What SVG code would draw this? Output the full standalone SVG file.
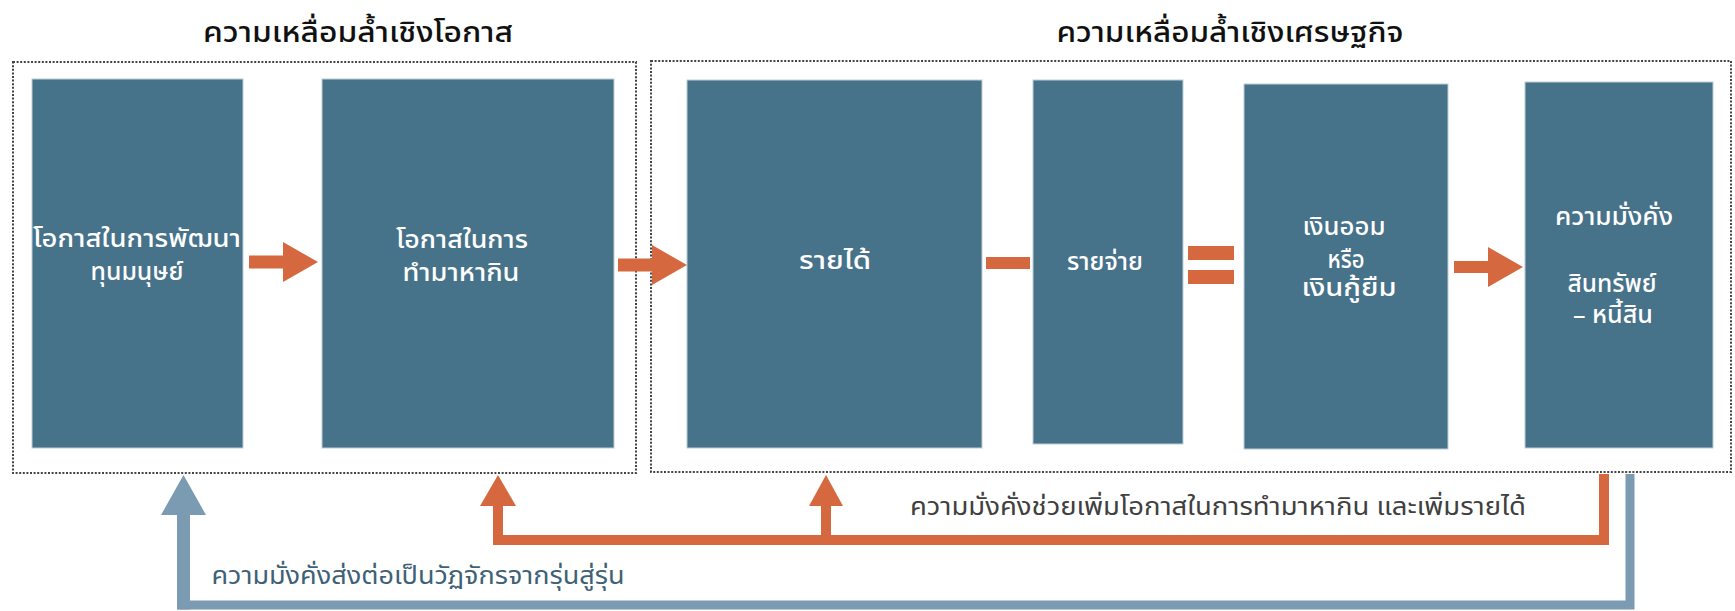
<svg xmlns="http://www.w3.org/2000/svg" width="1735" height="611" viewBox="0 0 1735 611">
<defs>
<style>
.bg{fill:#ffffff}
.frame{fill:none;stroke:#444;stroke-width:2;stroke-dasharray:2 1.6}
.box{fill:#46728a;stroke:#bccdd6;stroke-width:1}
.tx{font-family:"Noto Sans Thai","Noto Sans","DejaVu Sans",sans-serif;font-size:24px;font-weight:500;fill:#ffffff;text-anchor:middle}
.title{font-family:"Noto Sans Thai","Noto Sans","DejaVu Sans",sans-serif;font-size:28px;font-weight:500;fill:#111111;text-anchor:middle}
.lbl{font-family:"Noto Sans Thai","Noto Sans","DejaVu Sans",sans-serif;font-size:24px;text-anchor:middle}
.or{fill:#d5683f}
.orl{fill:none;stroke:#d5683f;stroke-width:10;stroke-linejoin:miter}
.bl{fill:#7b9bb3}
.bll{fill:none;stroke:#7b9bb3;stroke-width:9;stroke-linejoin:miter}
</style>
</defs>
<rect class="bg" x="0" y="0" width="1735" height="611"/>

<g id="titles">
<text class="title" x="358" y="42" textLength="310" lengthAdjust="spacingAndGlyphs">ความเหลื่อมล้ำเชิงโอกาส</text>
<text class="title" x="1230" y="42" textLength="347" lengthAdjust="spacingAndGlyphs">ความเหลื่อมล้ำเชิงเศรษฐกิจ</text>
</g>

<g id="frame-opportunity"><rect class="frame" x="13" y="62" width="623" height="411"/></g>
<g id="frame-economic"><rect class="frame" x="651" y="61" width="1080" height="411"/></g>

<g id="node-human-capital">
<rect class="box" x="32" y="79" width="211" height="369"/>
<text class="tx" x="137" y="247" textLength="208" lengthAdjust="spacingAndGlyphs">โอกาสในการพัฒนา</text>
<text class="tx" x="137" y="280" textLength="93" lengthAdjust="spacingAndGlyphs">ทุนมนุษย์</text>
</g>

<g id="node-earning">
<rect class="box" x="322" y="79" width="292" height="369"/>
<text class="tx" x="462" y="248" textLength="132" lengthAdjust="spacingAndGlyphs">โอกาสในการ</text>
<text class="tx" x="461" y="281" textLength="117" lengthAdjust="spacingAndGlyphs">ทำมาหากิน</text>
</g>

<g id="node-income">
<rect class="box" x="687" y="80" width="295" height="368"/>
<text class="tx" x="835" y="269" textLength="72" lengthAdjust="spacingAndGlyphs">รายได้</text>
</g>

<g id="node-expense">
<rect class="box" x="1033" y="80" width="150" height="364"/>
<text class="tx" x="1105" y="270" textLength="76" lengthAdjust="spacingAndGlyphs">รายจ่าย</text>
</g>

<g id="node-savings">
<rect class="box" x="1244" y="84" width="204" height="365"/>
<text class="tx" x="1344" y="235" textLength="83" lengthAdjust="spacingAndGlyphs">เงินออม</text>
<text class="tx" x="1346" y="268" textLength="37" lengthAdjust="spacingAndGlyphs">หรือ</text>
<text class="tx" x="1349" y="296" textLength="95" lengthAdjust="spacingAndGlyphs">เงินกู้ยืม</text>
</g>

<g id="node-wealth">
<rect class="box" x="1525" y="82" width="188" height="366"/>
<text class="tx" x="1614" y="225" textLength="118" lengthAdjust="spacingAndGlyphs">ความมั่งคั่ง</text>
<text class="tx" x="1612" y="292" textLength="89" lengthAdjust="spacingAndGlyphs">สินทรัพย์</text>
<text class="tx" x="1613" y="323" textLength="80" lengthAdjust="spacingAndGlyphs">– หนี้สิน</text>
</g>

<g id="connectors">
<polygon class="or" points="249,255.5 283,255.5 283,242 318,262 283,282 283,268.5 249,268.5"/>
<polygon class="or" points="618,258.5 652,258.5 652,245 687,265 652,285 652,271.5 618,271.5"/>
<rect class="or" x="986" y="257" width="44" height="12"/>
<rect class="or" x="1188" y="246" width="46" height="14"/>
<rect class="or" x="1188" y="270" width="46" height="14"/>
<polygon class="or" points="1454,261 1488,261 1488,247 1523,267 1488,287 1488,273 1454,273"/>

<path class="bll" d="M1630,474 V605 H178"/>
<rect class="bl" x="177" y="513" width="13" height="96.5"/>
<polygon class="bl" points="161,515 206,515 183.5,475"/>

<path class="orl" d="M1604,474 V540 H498 V504"/>
<polygon class="or" points="480,506 516,506 498,475"/>
<path class="orl" d="M826,540 V504"/>
<polygon class="or" points="809,506 843,506 826,475"/>
</g>

<g id="labels">
<text class="lbl" x="418" y="584" fill="#3e6176" textLength="413" lengthAdjust="spacingAndGlyphs">ความมั่งคั่งส่งต่อเป็นวัฏจักรจากรุ่นสู่รุ่น</text>
<text class="lbl" x="1218" y="515" fill="#404040" textLength="616" lengthAdjust="spacingAndGlyphs">ความมั่งคั่งช่วยเพิ่มโอกาสในการทำมาหากิน และเพิ่มรายได้</text>
</g>
</svg>
